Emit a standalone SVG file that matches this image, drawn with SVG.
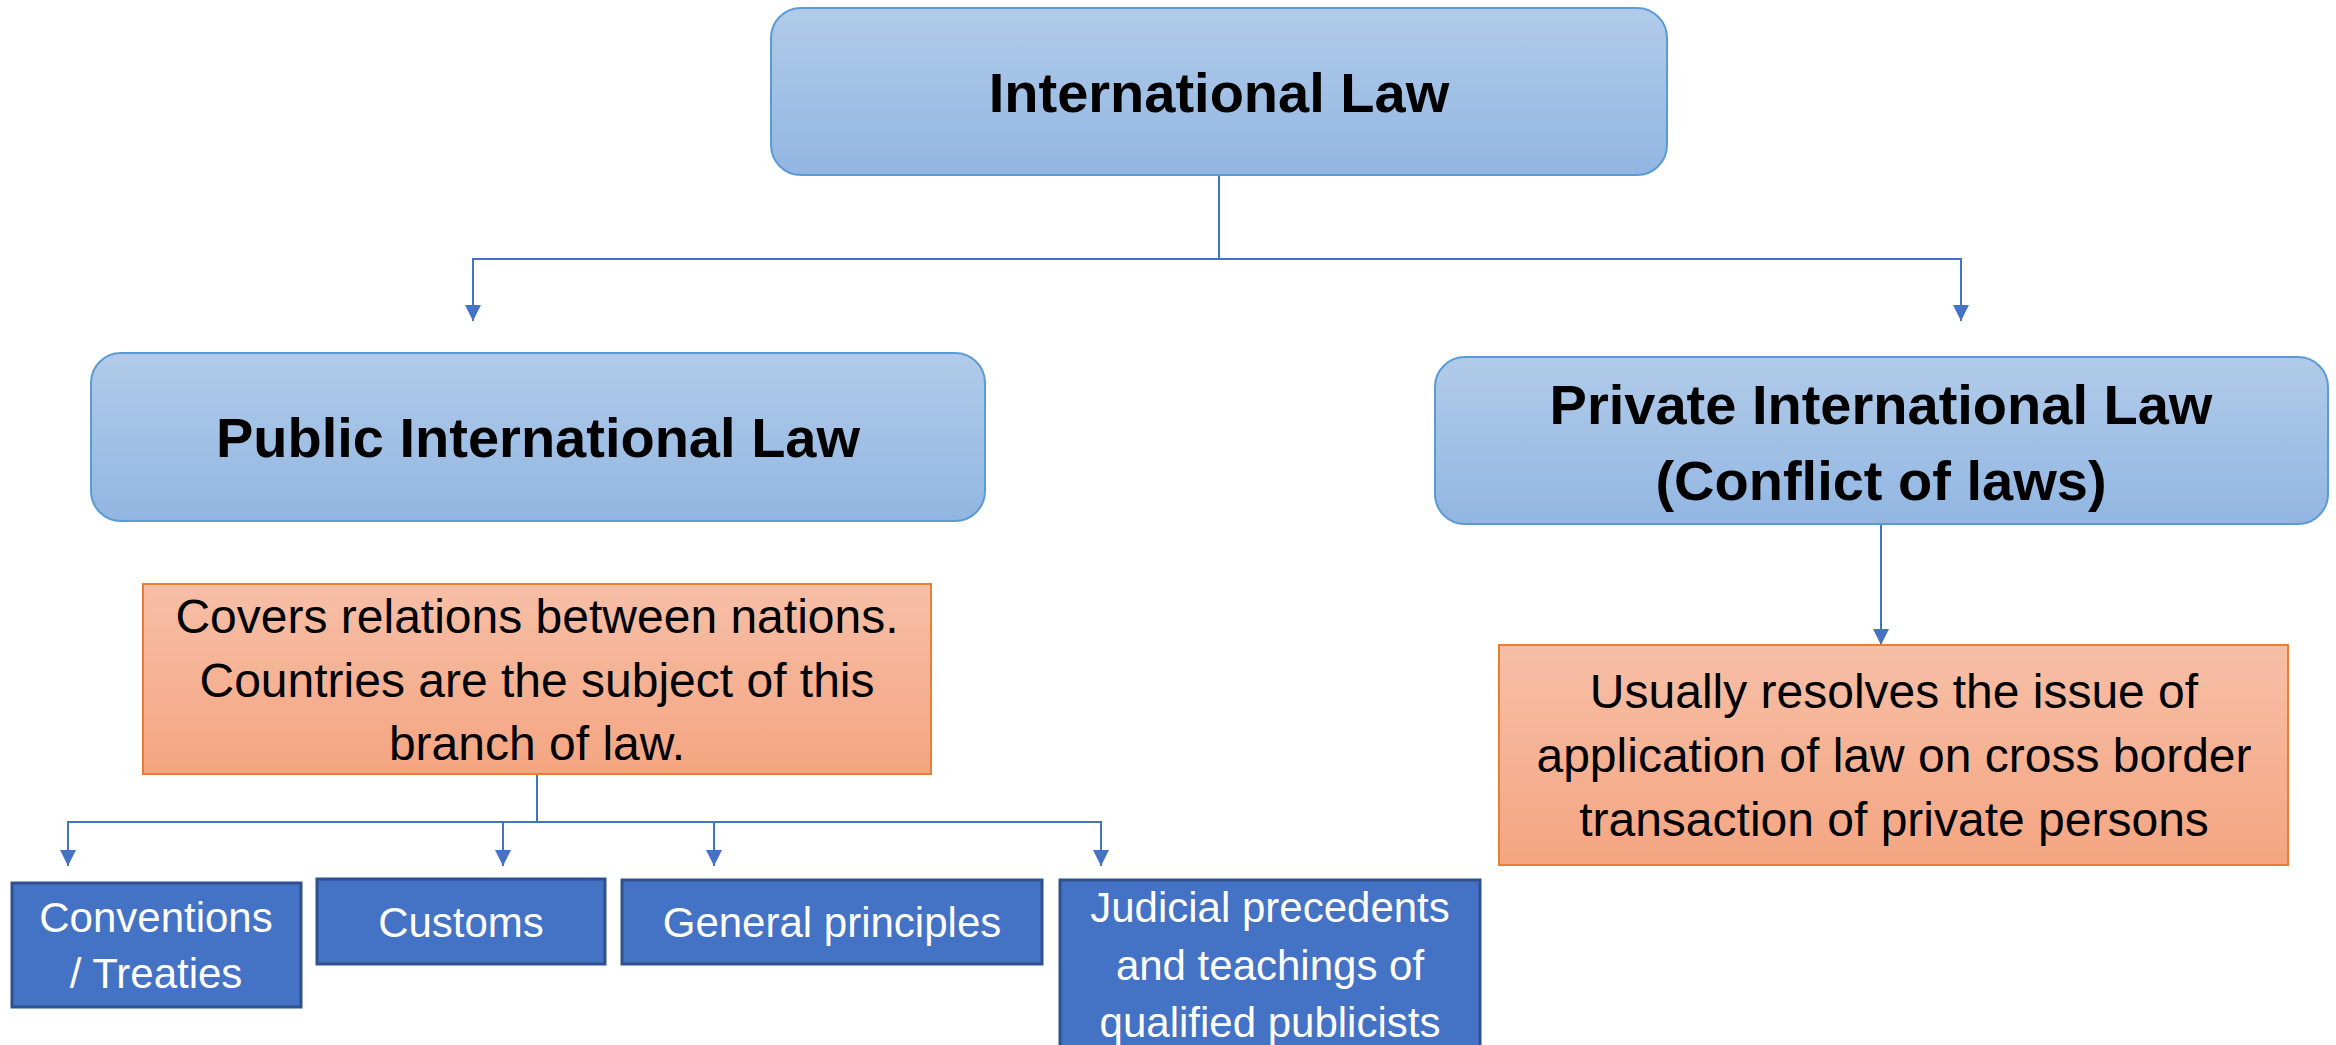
<svg xmlns="http://www.w3.org/2000/svg" width="2336" height="1045" viewBox="0 0 2336 1045">
  <defs>
    <linearGradient id="gradBlue" x1="0" y1="0" x2="0" y2="1">
      <stop offset="0" stop-color="#B1CBE9"/>
      <stop offset="1" stop-color="#92B6E2"/>
    </linearGradient>
    <linearGradient id="gradOrange" x1="0" y1="0" x2="0" y2="1">
      <stop offset="0" stop-color="#F7BFA7"/>
      <stop offset="1" stop-color="#F4A581"/>
    </linearGradient>
    <marker id="arrow" viewBox="0 0 16 16" markerWidth="16" markerHeight="16" refX="16" refY="8" orient="auto" markerUnits="userSpaceOnUse">
      <path d="M0,0 L16,8 L0,16 Z" fill="#4472C4"/>
    </marker>
  </defs>
  <style>
    .head { fill: url(#gradBlue); stroke: #5B9BD5; stroke-width: 2; }
    .note { fill: url(#gradOrange); stroke: #ED7D31; stroke-width: 2; }
    .src { fill: #4472C4; stroke: #2F528F; stroke-width: 3; }
    .t-head { font-family: "Liberation Sans", Arial, sans-serif; font-weight: bold; font-size: 56px; fill: #000; text-anchor: middle; }
    .t-note { font-family: "Liberation Sans", Arial, sans-serif; font-size: 48px; fill: #000; text-anchor: middle; }
    .t-src { font-family: "Liberation Sans", Arial, sans-serif; font-size: 42px; fill: #FFFFFF; text-anchor: middle; }
    .link { fill: none; stroke: #4472C4; stroke-width: 2; }
  </style>
  <rect width="2336" height="1045" fill="#FFFFFF"/>

  <!-- connectors -->
  <g id="connectors">
    <path class="link" d="M1219,175 V259"/>
    <path class="link" d="M1219,259 H473 V321" marker-end="url(#arrow)"/>
    <path class="link" d="M1219,259 H1961 V321" marker-end="url(#arrow)"/>
    <path class="link" d="M1881,524 V645" marker-end="url(#arrow)"/>
    <path class="link" d="M537,774 V822"/>
    <path class="link" d="M537,822 H68 V866" marker-end="url(#arrow)"/>
    <path class="link" d="M537,822 H1101 V866" marker-end="url(#arrow)"/>
    <path class="link" d="M503,822 V866" marker-end="url(#arrow)"/>
    <path class="link" d="M714,822 V866" marker-end="url(#arrow)"/>
  </g>

  <!-- root -->
  <g id="international-law">
    <rect class="head" x="771" y="8" width="896" height="167" rx="30" ry="30"/>
    <text class="t-head" x="1219" y="112">International Law</text>
  </g>

  <!-- public branch -->
  <g id="public-international-law">
    <rect class="head" x="91" y="353" width="894" height="168" rx="30" ry="30"/>
    <text class="t-head" x="538" y="457">Public International Law</text>
  </g>
  <g id="public-description">
    <rect class="note" x="143" y="584" width="788" height="190"/>
    <text class="t-note" x="537" y="633">Covers relations between nations.</text>
    <text class="t-note" x="537" y="697">Countries are the subject of this</text>
    <text class="t-note" x="537" y="760">branch of law.</text>
  </g>

  <!-- sources -->
  <g id="conventions-treaties">
    <rect class="src" x="12" y="883" width="289" height="124"/>
    <text class="t-src" x="156" y="932">Conventions</text>
    <text class="t-src" x="156" y="988">/ Treaties</text>
  </g>
  <g id="customs">
    <rect class="src" x="317" y="879" width="288" height="85"/>
    <text class="t-src" x="461" y="937">Customs</text>
  </g>
  <g id="general-principles">
    <rect class="src" x="622" y="880" width="420" height="84"/>
    <text class="t-src" x="832" y="937">General principles</text>
  </g>
  <g id="judicial-precedents">
    <rect class="src" x="1060" y="880" width="420" height="180"/>
    <text class="t-src" x="1270" y="922">Judicial precedents</text>
    <text class="t-src" x="1270" y="980">and teachings of</text>
    <text class="t-src" x="1270" y="1037">qualified publicists</text>
  </g>

  <!-- private branch -->
  <g id="private-international-law">
    <rect class="head" x="1435" y="357" width="893" height="167" rx="30" ry="30"/>
    <text class="t-head" x="1881" y="424">Private International Law</text>
    <text class="t-head" x="1881" y="500">(Conflict of laws)</text>
  </g>
  <g id="private-description">
    <rect class="note" x="1499" y="645" width="789" height="220"/>
    <text class="t-note" x="1894" y="708">Usually resolves the issue of</text>
    <text class="t-note" x="1894" y="772">application of law on cross border</text>
    <text class="t-note" x="1894" y="836">transaction of private persons</text>
  </g>
</svg>
